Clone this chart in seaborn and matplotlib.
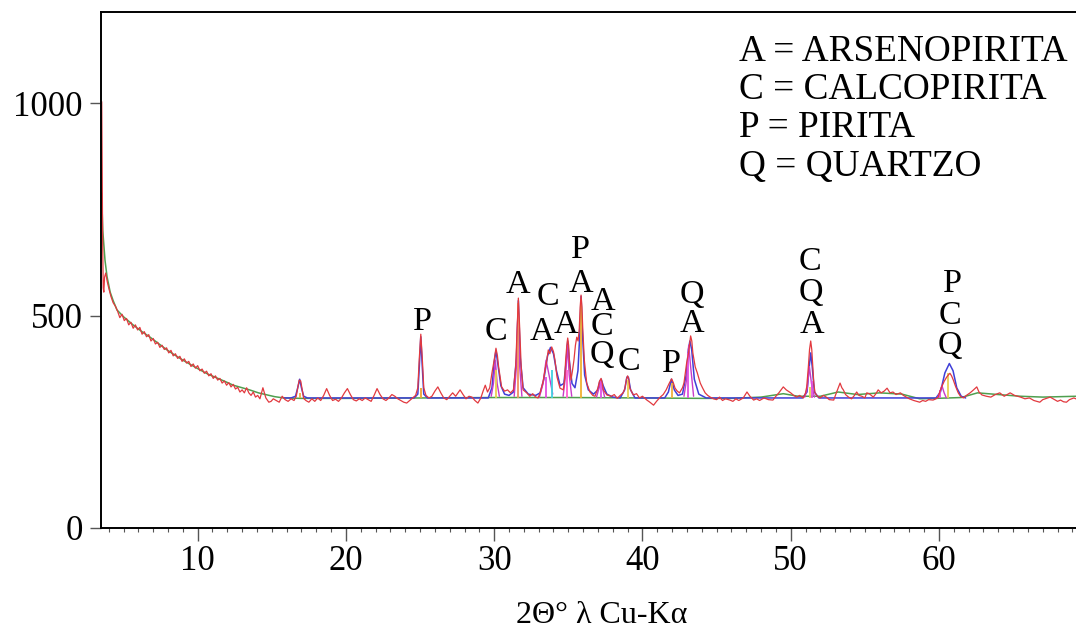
import matplotlib
matplotlib.use("Agg")
import matplotlib.pyplot as plt
import seaborn as sns
from matplotlib.ticker import MultipleLocator

# ---------------- data ----------------
# observed diffractogram (2theta, counts)
observed = [
    (3.53, 1003), (3.56, 850), (3.59, 680), (3.63, 565), (3.67, 555), (3.72, 590), (3.80, 600), (3.90, 580),
    (4.00, 565), (4.15, 545), (4.30, 530), (4.45, 522), (4.60, 510), (4.75, 495), (4.90, 503), (5.05, 488),
    (5.20, 493), (5.35, 478), (5.50, 484), (5.65, 470), (5.80, 478), (5.95, 466), (6.10, 472), (6.25, 456),
    (6.40, 462), (6.55, 450), (6.70, 455), (6.85, 440), (7.00, 446), (7.15, 433), (7.30, 437), (7.45, 425),
    (7.60, 430), (7.75, 420), (7.90, 424), (8.05, 412), (8.20, 418), (8.35, 405), (8.50, 410), (8.65, 399),
    (8.80, 404), (8.95, 392), (9.10, 398), (9.25, 388), (9.40, 392), (9.55, 380), (9.70, 386), (9.85, 376),
    (10.0, 382), (10.15, 370), (10.3, 374), (10.45, 364), (10.6, 369), (10.75, 358), (10.9, 363), (11.05, 352),
    (11.2, 358), (11.35, 348), (11.5, 352), (11.65, 341), (11.8, 346), (11.95, 336), (12.1, 342), (12.25, 332),
    (12.4, 338), (12.55, 327), (12.7, 331), (12.85, 320), (13.0, 325), (13.15, 318), (13.3, 330), (13.45, 318),
    (13.6, 312), (13.75, 320), (13.9, 308), (14.05, 312), (14.2, 304), (14.4, 330), (14.6, 306), (14.8, 296),
    (14.95, 298), (15.1, 304), (15.3, 300), (15.5, 296), (15.7, 310), (15.9, 302), (16.1, 298), (16.3, 304),
    (16.5, 300), (16.65, 310), (16.75, 330), (16.85, 348), (16.95, 346), (17.05, 325), (17.15, 305), (17.3, 300),
    (17.5, 296), (17.7, 304), (17.9, 298), (18.1, 306), (18.3, 300), (18.5, 312), (18.7, 328), (18.9, 312),
    (19.1, 300), (19.3, 303), (19.5, 298), (19.7, 306), (19.9, 318), (20.1, 328), (20.3, 314), (20.5, 302),
    (20.7, 299), (20.9, 304), (21.1, 300), (21.3, 306), (21.5, 302), (21.7, 298), (21.9, 312), (22.1, 328),
    (22.3, 314), (22.5, 304), (22.7, 300), (22.9, 306), (23.1, 314), (23.3, 310), (23.5, 304), (23.7, 300),
    (23.9, 296), (24.1, 294), (24.3, 300), (24.5, 306), (24.7, 312), (24.85, 330), (24.95, 400), (25.05, 456),
    (25.15, 400), (25.25, 330), (25.4, 312), (25.6, 306), (25.8, 310), (26.0, 322), (26.2, 332), (26.4, 318),
    (26.6, 306), (26.8, 302), (27.0, 310), (27.2, 318), (27.4, 310), (27.7, 325), (27.9, 314), (28.1, 304),
    (28.3, 310), (28.5, 308), (28.7, 300), (28.9, 294), (29.1, 306), (29.25, 322), (29.4, 336), (29.55, 320),
    (29.7, 330), (29.85, 365), (30.0, 395), (30.12, 423), (30.22, 405), (30.3, 379), (30.5, 332), (30.7, 322),
    (30.9, 325), (31.1, 318), (31.3, 325), (31.45, 380), (31.55, 470), (31.63, 541), (31.72, 470), (31.82, 380),
    (31.95, 325), (32.2, 318), (32.4, 310), (32.6, 316), (32.8, 308), (32.96, 306), (33.1, 318), (33.3, 345),
    (33.43, 372), (33.55, 395), (33.65, 419), (33.75, 410), (33.88, 426), (34.0, 415), (34.1, 395), (34.24, 355),
    (34.44, 329), (34.66, 325), (34.75, 350), (34.82, 395), (34.9, 430), (34.96, 447), (35.02, 430), (35.07, 395),
    (35.18, 348), (35.28, 370), (35.38, 395), (35.48, 430), (35.57, 449), (35.66, 440), (35.74, 470), (35.8, 520),
    (35.86, 548), (35.92, 520), (35.97, 473), (36.08, 395), (36.24, 341), (36.46, 320), (36.65, 312), (36.8, 310),
    (36.99, 329), (37.1, 345), (37.21, 352), (37.3, 340), (37.36, 325), (37.6, 313), (37.9, 310), (38.1, 314),
    (38.3, 305), (38.5, 312), (38.7, 318), (38.82, 329), (38.92, 350), (39.0, 358), (39.08, 350), (39.15, 329),
    (39.38, 313), (39.6, 316), (39.8, 306), (40.0, 310), (40.2, 304), (40.3, 301), (40.5, 296), (40.75, 289),
    (40.95, 298), (41.2, 308), (41.4, 314), (41.6, 325), (41.8, 340), (41.97, 351), (42.08, 342), (42.2, 329),
    (42.35, 322), (42.5, 318), (42.7, 330), (42.8, 341), (42.98, 388), (43.1, 410), (43.25, 452), (43.33, 440),
    (43.4, 412), (43.56, 379), (43.7, 365), (43.9, 341), (44.05, 330), (44.23, 318), (44.4, 312), (44.57, 308),
    (44.8, 304), (45.0, 302), (45.2, 308), (45.4, 300), (45.6, 304), (45.9, 301), (46.1, 298), (46.3, 304),
    (46.5, 300), (46.8, 306), (47.05, 320), (47.25, 310), (47.5, 301), (47.7, 304), (47.9, 300), (48.2, 306),
    (48.5, 302), (48.8, 301), (49.0, 310), (49.2, 318), (49.5, 332), (49.7, 325), (50.0, 318), (50.2, 312),
    (50.4, 308), (50.6, 312), (50.85, 306), (51.0, 318), (51.08, 332), (51.19, 379), (51.27, 420), (51.35, 440),
    (51.42, 420), (51.49, 379), (51.56, 340), (51.64, 318), (51.8, 310), (51.98, 306), (52.2, 312), (52.4, 308),
    (52.6, 302), (52.9, 301), (53.1, 320), (53.33, 341), (53.45, 330), (53.55, 325), (53.7, 314), (53.9, 308),
    (54.1, 304), (54.3, 312), (54.45, 320), (54.6, 312), (54.8, 310), (55.0, 306), (55.13, 318), (55.3, 316),
    (55.57, 308), (55.75, 316), (55.9, 325), (56.1, 318), (56.3, 322), (56.5, 329), (56.7, 318), (56.9, 320),
    (57.1, 314), (57.4, 318), (57.6, 312), (57.8, 308), (58.0, 304), (58.3, 300), (58.5, 298), (58.7, 296),
    (58.9, 300), (59.1, 298), (59.3, 302), (59.6, 301), (59.8, 304), (59.95, 308), (60.05, 320), (60.18, 332),
    (60.35, 345), (60.52, 355), (60.63, 360), (60.74, 364), (60.85, 358), (60.97, 348), (61.1, 335), (61.3, 318),
    (61.45, 310), (61.64, 306), (61.85, 312), (62.1, 318), (62.3, 324), (62.55, 332), (62.7, 320), (62.9, 313),
    (63.2, 310), (63.5, 308), (63.8, 314), (64.1, 318), (64.4, 310), (64.6, 314), (64.8, 318), (65.1, 312),
    (65.5, 308), (65.8, 304), (66.1, 306), (66.4, 300), (66.6, 298), (66.8, 296), (67.0, 302), (67.25, 305),
    (67.5, 308), (67.8, 302), (68.0, 298), (68.2, 301), (68.4, 297), (68.6, 296), (68.8, 302), (69.1, 306),
    (69.3, 303),
]

# fitted background (green)
background = [
    (3.52, 788), (3.6, 700), (3.75, 630), (3.89, 591), (4.1, 555), (4.3, 535), (4.56, 513), (5.0, 497),
    (5.64, 478), (6.2, 463), (6.79, 449), (7.4, 433), (7.93, 419), (8.5, 406), (9.0, 395), (9.6, 383),
    (10.16, 372), (10.7, 362), (11.3, 353), (11.9, 344), (12.4, 336), (13.0, 330), (13.5, 325), (14.1, 318),
    (14.7, 313), (15.2, 309), (15.8, 306), (17.0, 305), (20.0, 305), (25.0, 306), (30.0, 307), (35.0, 307),
    (40.0, 306), (44.0, 305), (46.0, 305), (48.0, 308), (49.5, 316), (50.5, 310), (52.0, 310), (53.2, 320),
    (54.5, 314), (56.0, 318), (57.5, 315), (58.7, 304), (59.8, 305), (61.5, 307), (62.6, 318), (64.0, 314),
    (65.5, 310), (67.0, 308), (69.3, 310),
]

# fitted profile (blue)
fitted = [
    (15.8, 306), (16.3, 306), (16.6, 310), (16.75, 330), (16.88, 350), (17.0, 330), (17.15, 310), (17.4, 306),
    (24.6, 306), (24.85, 315), (24.95, 380), (25.05, 450), (25.15, 380), (25.25, 315), (25.5, 306),
    (29.6, 306), (29.85, 330), (30.0, 390), (30.12, 418), (30.25, 385), (30.45, 335), (30.7, 315), (31.0, 312),
    (31.3, 320), (31.5, 400), (31.63, 535), (31.76, 400), (31.95, 330), (32.3, 315), (32.8, 312), (33.1, 318),
    (33.35, 350), (33.6, 405), (33.8, 425), (34.0, 410), (34.2, 370), (34.45, 335), (34.7, 340), (34.85, 390),
    (34.96, 440), (35.08, 390), (35.25, 340), (35.45, 330), (35.65, 370), (35.78, 460), (35.86, 545),
    (35.95, 460), (36.1, 360), (36.35, 325), (36.7, 315), (37.0, 325), (37.12, 345), (37.22, 350), (37.35, 335),
    (37.6, 315), (38.0, 308), (38.5, 306), (38.8, 325), (38.95, 355), (39.05, 355), (39.2, 325), (39.5, 306),
    (41.5, 306), (41.75, 320), (41.95, 350), (42.15, 325), (42.4, 312), (42.7, 315), (42.95, 360), (43.1, 420),
    (43.2, 440), (43.32, 420), (43.5, 350), (43.8, 315), (44.3, 306),
    (50.8, 306), (51.1, 320), (51.25, 380), (51.35, 412), (51.45, 380), (51.6, 320), (51.9, 306),
    (59.8, 306), (60.1, 320), (60.4, 365), (60.7, 387), (60.95, 370), (61.2, 330), (61.5, 310), (61.8, 306),
]

# single-phase components (magenta)
comp_30 = [(29.8, 310), (29.95, 340), (30.08, 395), (30.2, 340), (30.35, 310)]
comp_316 = [(31.35, 310), (31.5, 380), (31.61, 520), (31.72, 380), (31.87, 310)]
comp_336 = [(33.05, 308), (33.3, 340), (33.5, 395), (33.7, 360), (33.95, 315)]
comp_35 = [(34.65, 310), (34.82, 360), (34.94, 430), (35.06, 360), (35.23, 310)]
comp_372 = [(36.9, 308), (37.08, 330), (37.18, 345), (37.3, 330), (37.45, 308)]
comp_43 = [(42.8, 310), (42.98, 350), (43.12, 430), (43.25, 380), (43.45, 310)]
comp_513 = [(50.95, 308), (51.12, 330), (51.26, 380), (51.4, 340), (51.6, 308)]
comp_603 = [(59.9, 306), (60.05, 318), (60.2, 335), (60.35, 318), (60.5, 306)]
components = [comp_30, comp_316, comp_336, comp_35, comp_372, comp_43, comp_513, comp_603]

# reference sticks (position, top counts)
stick_pos = [16.9, 25.05, 30.12, 31.63, 33.5, 33.9, 34.93, 35.86, 37.2, 39.0, 42.0, 43.1, 51.3, 51.45, 60.1, 60.6]
stick_top = [318, 330, 372, 530, 355, 372, 372, 540, 348, 348, 341, 412, 332, 345, 325, 364]

# phase labels above the peaks: letter, 2theta, baseline counts
label_chars = ["P", "C", "A", "A", "C", "A", "P", "A", "A", "C", "Q", "C", "P", "Q", "A",
               "C", "Q", "A", "P", "C", "Q"]
label_2theta = [25.13, 30.12, 31.61, 33.23, 33.64, 34.85, 35.79, 35.86, 37.35, 37.28, 37.28, 39.09, 41.99,
                43.34, 43.34, 51.30, 51.37, 51.44, 60.94, 60.74, 60.74]
label_counts = [466, 442, 553, 442, 525, 459, 635, 555, 513, 454, 388, 372, 367, 529, 461, 606, 534, 459,
                555, 480, 409]

legend_lines = ["A = ARSENOPIRITA", "C = CALCOPIRITA", "P = PIRITA", "Q = QUARTZO"]
x_ticks = [10, 20, 30, 40, 50, 60]
y_ticks = [0, 500, 1000]
x_label = "2\u0398\u00b0 \u03bb Cu-K\u03b1"

# ---------------- styling ----------------
sns.set_style("white")
plt.rcParams["font.family"] = ["Liberation Serif", "DejaVu Serif"]

W, H = 1076, 630
fig = plt.figure(figsize=(W / 100, H / 100), dpi=100)
left_px, right_px, top_px, bottom_px = 100.7, 1076, 11.7, 528
ax = fig.add_axes([left_px / W, 1 - bottom_px / H, (right_px - left_px) / W, (bottom_px - top_px) / H])

obs_x, obs_y = zip(*observed)
bg_x, bg_y = zip(*background)
fit_x, fit_y = zip(*fitted)

sns.lineplot(x=list(bg_x), y=list(bg_y), ax=ax, color="#4f9f4f", linewidth=1.1, sort=False, estimator=None)
sns.lineplot(x=list(fit_x), y=list(fit_y), ax=ax, color="#3f3fd8", linewidth=1.1, sort=False, estimator=None)
for comp in components:
    cx, cy = zip(*comp)
    sns.lineplot(x=list(cx), y=list(cy), ax=ax, color="#c83cc8", linewidth=1.0, sort=False, estimator=None)

stick_colors = ["#f0b040", "#f0a030", "#e8d050", "#f09060", "#e050e0", "#40d0e0", "#ff60d0", "#f0b030",
                "#e050e0", "#e8d050", "#f0b040", "#e050e0", "#e8d050", "#e050e0", "#e050e0", "#e8d050"]
ax.vlines(stick_pos, 306, stick_top, colors=stick_colors, linewidth=1.3)

sns.lineplot(x=list(obs_x), y=list(obs_y), ax=ax, color="#e2393f", linewidth=0.9, sort=False, estimator=None)

for ch, xx, yy in zip(label_chars, label_2theta, label_counts):
    ax.text(xx, yy, ch, ha="center", va="baseline", fontsize=24.5, color="black")

ax.set_xlim(3.46, 3.46 + (right_px - left_px) / 14.826)
ax.set_ylim(0, (bottom_px - top_px) / 0.425)
ax.set_xticks(x_ticks)
ax.set_yticks(y_ticks)
ax.xaxis.set_minor_locator(MultipleLocator(1))
ax.set_xlabel("")
ax.set_ylabel("")

ax.tick_params(axis="x", which="major", bottom=True, direction="out", length=9, width=1.0,
               color="#555555", pad=3.5, labelsize=25, labelcolor="black")
ax.tick_params(axis="x", which="minor", bottom=True, direction="out", length=3, width=0.8, color="#555555")
ax.tick_params(axis="y", which="major", left=True, direction="out", length=8, width=1.0,
               color="#555555", pad=5, labelsize=25, labelcolor="black")

for side in ["left", "bottom", "top"]:
    ax.spines[side].set_visible(True)
    ax.spines[side].set_color("black")
    ax.spines[side].set_linewidth(1.4)
ax.spines["right"].set_visible(False)

leg_base_px = [60.7, 99.0, 137.3, 175.7]
for line, ypx in zip(legend_lines, leg_base_px):
    fig.text(739 / W, 1 - ypx / H, line, fontsize=26.8, va="baseline", ha="left", color="black")

fig.text(602 / W, 1 - 623 / H, x_label, fontsize=23, ha="center", va="baseline", color="black")

fig.savefig("out.png", dpi=100, facecolor="white")
